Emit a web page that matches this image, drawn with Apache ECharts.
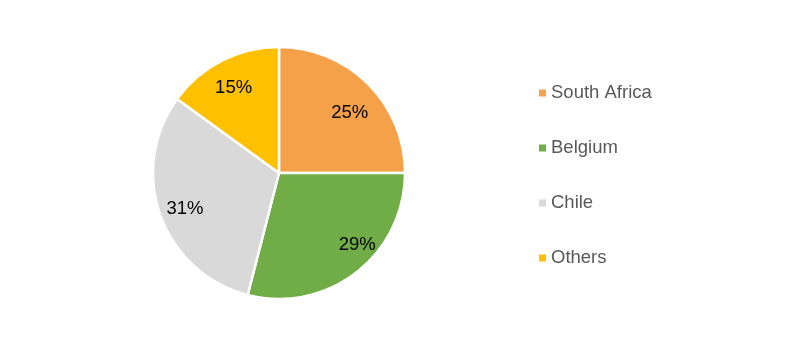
<!DOCTYPE html>
<html>
<head>
<meta charset="utf-8">
<script src="https://cdn.jsdelivr.net/npm/echarts@6/dist/echarts.min.js"></script>
<style>
  html, body { margin: 0; padding: 0; background: #fff; }
  #chart { width: 811px; height: 355px; }
</style>
</head>
<body>
<div id="chart"></div>
<script>
// 数据
const countries = ['South Africa', 'Belgium', 'Chile', 'Others']
const shares = [25, 29, 31, 15]
const colors = ['#F5A14A', '#70AD47', '#D9D9D9', '#FFC000']
// 标签微调（像Excel那样的摆放）
const labelNudge = [[0, 11], [17, -7], [0, 2], [0, 4]]

const pieData = countries.map((name, i) => ({ name: name, value: shares[i] }))
const labelData = countries.map((name, i) => ({
  name: name,
  value: shares[i],
  label: { offset: labelNudge[i] }
}))

const chart = echarts.init(document.getElementById('chart'))
chart.setOption({
  animation: false,
  color: colors,
  legend: {
    orient: 'vertical',
    left: 534,
    top: 78,
    itemWidth: 7,
    itemHeight: 7,
    itemGap: 35,
    icon: 'rect',
    data: countries,
    itemStyle: { borderWidth: 0 },
    textStyle: {
      fontFamily: 'Liberation Sans, Arial, sans-serif',
      fontSize: 18.5,
      lineHeight: 20,
      color: '#595959'
    }
  },
  series: [
    {
      type: 'pie',
      center: [279, 173],
      radius: [0, 126],
      startAngle: 90,
      clockwise: true,
      data: pieData,
      itemStyle: { borderColor: '#fff', borderWidth: 2.5 },
      label: { show: false },
      labelLine: { show: false },
      emphasis: { disabled: true }
    },
    {
      // 只用来放百分比标签
      type: 'pie',
      center: [279, 173],
      radius: [68, 126],
      startAngle: 90,
      clockwise: true,
      data: labelData,
      silent: true,
      legendHoverLink: false,
      itemStyle: { color: 'rgba(0,0,0,0)', borderWidth: 0 },
      label: {
        show: true,
        position: 'inside',
        formatter: p => p.value + '%',
        fontFamily: 'Liberation Sans, Arial, sans-serif',
        fontSize: 18.5,
        color: '#000'
      },
      labelLine: { show: false },
      emphasis: { disabled: true }
    }
  ]
})
</script>
</body>
</html>
